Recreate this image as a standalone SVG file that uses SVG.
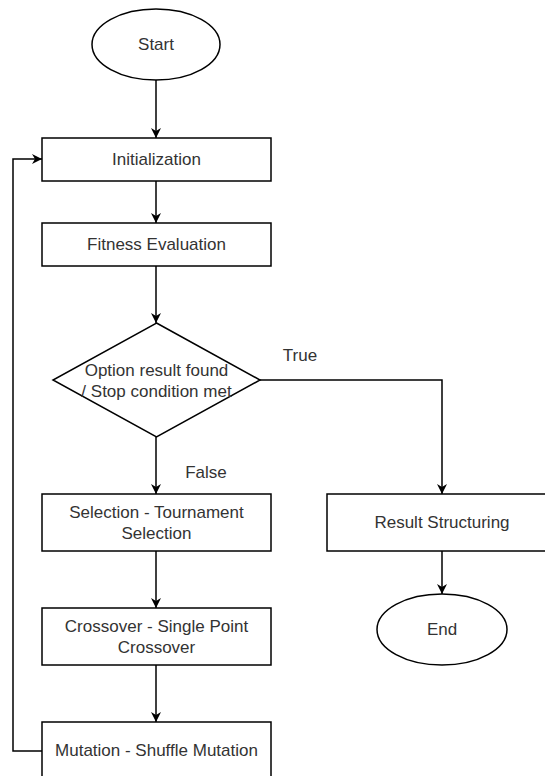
<svg xmlns="http://www.w3.org/2000/svg" width="545" height="776" viewBox="0 0 545 776">
  <style>
    .shape { fill: #ffffff; stroke: #000000; stroke-width: 1.5; }
    .link { fill: none; stroke: #000000; stroke-width: 1.5; }
    text { font-family: "Liberation Sans", Arial, sans-serif; font-size: 17px; fill: #333333; text-anchor: middle; dominant-baseline: central; }
  </style>
  <defs>
    <marker id="arrow" viewBox="0 0 10 10" refX="10" refY="5" markerWidth="10" markerHeight="10" markerUnits="userSpaceOnUse" orient="auto">
      <path d="M0,0 L10,5 L0,10 L3,5 Z" fill="#000000"/>
    </marker>
  </defs>
  <rect width="545" height="776" fill="#ffffff"/>

  <g id="connectors">
    <path class="link" d="M156,80 L156,138" marker-end="url(#arrow)"/>
    <path class="link" d="M156,181 L156,223" marker-end="url(#arrow)"/>
    <path class="link" d="M156,266 L156,323" marker-end="url(#arrow)"/>
    <path class="link" d="M156,437 L156,494" marker-end="url(#arrow)"/>
    <path class="link" d="M260,380 L442,380 L442,494" marker-end="url(#arrow)"/>
    <path class="link" d="M156,551 L156,608" marker-end="url(#arrow)"/>
    <path class="link" d="M156,665 L156,722" marker-end="url(#arrow)"/>
    <path class="link" d="M442,551 L442,594" marker-end="url(#arrow)"/>
    <path class="link" d="M42,751 L13,751 L13,159 L42,159" marker-end="url(#arrow)"/>
    <text x="300" y="355">True</text>
    <text x="206" y="472">False</text>
  </g>

  <g id="start">
    <ellipse class="shape" cx="156" cy="44.5" rx="64" ry="35.5"/>
    <text x="156" y="44">Start</text>
  </g>

  <g id="initialization">
    <rect class="shape" x="42" y="138" width="229" height="43"/>
    <text x="156.5" y="159">Initialization</text>
  </g>

  <g id="fitness">
    <rect class="shape" x="42" y="223" width="229" height="43"/>
    <text x="156.5" y="244">Fitness Evaluation</text>
  </g>

  <g id="decision">
    <path class="shape" d="M156.5,323 L260,380 L156.5,437 L53,380 Z"/>
    <text x="156.5" y="370">Option result found</text>
    <text x="156.5" y="391">/ Stop condition met</text>
  </g>

  <g id="selection">
    <rect class="shape" x="42" y="494" width="229" height="57"/>
    <text x="156.5" y="512">Selection - Tournament</text>
    <text x="156.5" y="533">Selection</text>
  </g>

  <g id="crossover">
    <rect class="shape" x="42" y="608" width="229" height="57"/>
    <text x="156.5" y="626">Crossover - Single Point</text>
    <text x="156.5" y="647">Crossover</text>
  </g>

  <g id="mutation">
    <rect class="shape" x="42" y="722" width="229" height="57"/>
    <text x="156.5" y="750">Mutation - Shuffle Mutation</text>
  </g>

  <g id="result">
    <rect class="shape" x="327" y="494" width="230" height="57"/>
    <text x="442" y="522">Result Structuring</text>
  </g>

  <g id="end">
    <ellipse class="shape" cx="442" cy="629.5" rx="65" ry="35.5"/>
    <text x="442" y="629">End</text>
  </g>
</svg>
